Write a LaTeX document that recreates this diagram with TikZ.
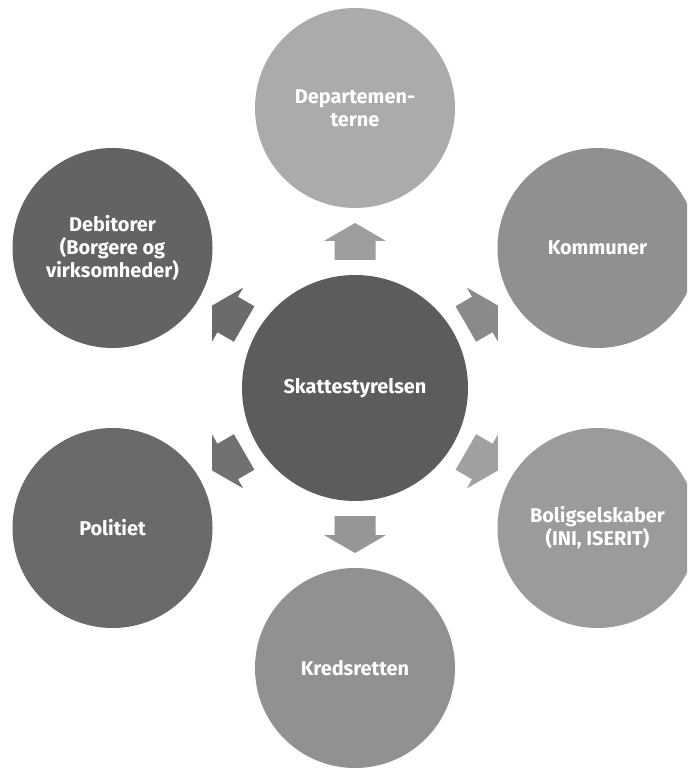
\documentclass[tikz,border=0pt]{standalone}
\usepackage{fontspec}
\setmainfont{Fira Sans}
\usetikzlibrary{calc}
\definecolor{centrecolour}{HTML}{5C5C5C}
\definecolor{debcolour}{HTML}{636363}
\definecolor{policolour}{HTML}{6A6A6A}
\definecolor{depcolour}{HTML}{ABABAB}
\definecolor{komcolour}{HTML}{909090}
\definecolor{bolcolour}{HTML}{9B9B9B}
\definecolor{krecolour}{HTML}{919191}

\tikzset{
  bubble/.style={circle, minimum size=6cm, inner sep=0pt, align=center, text=white,
    font=\fontsize{17}{19.5}\selectfont\bfseries},
  blockarrow/.pic={\fill[pic actions] (-18.5,-20.5) -- (0.5,-20.5) -- (0.5,-31) -- (18.5,0)
    -- (0.5,31) -- (0.5,20.5) -- (-18.5,20.5) -- cycle;}
}

\begin{document}
\begin{tikzpicture}[x=0.03cm,y=0.03cm]
\clip (-355,-381) rectangle (332,388);
\fill[white] (-355,-381) rectangle (332,388);
% Skattestyrelsen
\node[bubble, minimum size=6.78cm, fill=centrecolour] (sk) at (0,0) {Skattestyrelsen};
% Departementerne
\node[bubble, fill=depcolour] (dep) at (90:280) {Departemen-\\terne};
% Kommuner
\node[bubble, fill=komcolour] (kom) at (30:280) {Kommuner};
% Boligselskaber
\node[bubble, fill=bolcolour] (bol) at (-30:280) {Boligselskaber\\(INI, ISERIT)};
% Kredsretten
\node[bubble, fill=krecolour] (kre) at (-90:280) {Kredsretten};
% Politiet
\node[bubble, fill=policolour] (pol) at (-150:280) {Politiet};
% Debitorer
\node[bubble, fill=debcolour] (deb) at (150:280) {Debitorer\\(Borgere og\\virksomheder)};

% Arrows from Skattestyrelsen
\pic[rotate=90, fill=depcolour!92!black] at ($(sk.90)!0.5!(dep.270)$) {blockarrow};
\pic[rotate=30, fill=komcolour!105!white] at ($(sk.30)!0.5!(kom.210)$) {blockarrow};
\pic[rotate=-30, fill=bolcolour!95!white] at ($(sk.-30)!0.5!(bol.150)$) {blockarrow};
\pic[rotate=-90, fill=krecolour!95!white] at ($(sk.-90)!0.5!(kre.90)$) {blockarrow};
\pic[rotate=-150, fill=policolour!95!white] at ($(sk.-150)!0.5!(pol.30)$) {blockarrow};
\pic[rotate=150, fill=debcolour!95!white] at ($(sk.150)!0.5!(deb.-30)$) {blockarrow};
\end{tikzpicture}
\end{document}
